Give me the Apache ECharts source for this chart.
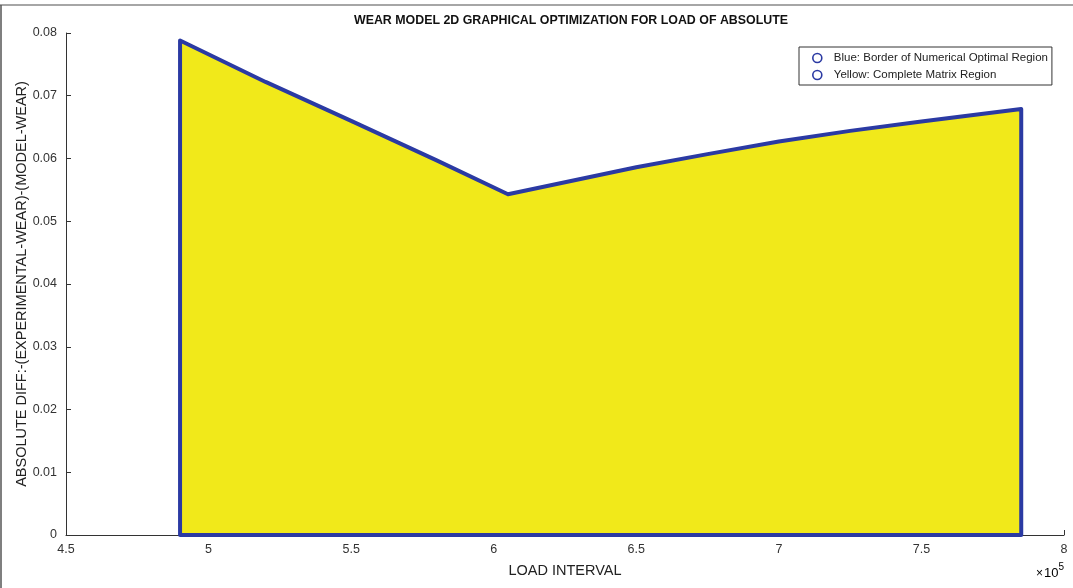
<!DOCTYPE html>
<html>
<head>
<meta charset="utf-8">
<title>Wear model 2D graphical optimization</title>
<script src="https://cdn.jsdelivr.net/npm/echarts@6/dist/echarts.min.js"></script>
<style>
  html, body { margin: 0; padding: 0; background: #ffffff; }
  #chart { width: 1073px; height: 588px; }
</style>
</head>
<body>
<div id="chart"></div>
<script>
// Load interval (x 10^5) along the upper border of the region
const loadX = [4.9, 5.2, 5.5, 5.8, 6.05, 6.3, 6.5, 6.75, 7.0, 7.25, 7.5, 7.85];
// Absolute difference (experimental wear - model wear) on the upper border
const diffY = [0.0788, 0.0722, 0.0660, 0.0597, 0.0543, 0.0567, 0.0586, 0.0607, 0.0627, 0.0644, 0.0659, 0.0679];
const xTicks = [4.5, 5, 5.5, 6, 6.5, 7, 7.5, 8];
const yTicks = [0, 0.01, 0.02, 0.03, 0.04, 0.05, 0.06, 0.07, 0.08];

const NAVY = '#2b3aa3';
const YELLOW = '#f1e91a';
const FONT = '"Liberation Sans", Arial, sans-serif';

// upper curve, used for the filled region
const topCurve = loadX.map((x, i) => [x, diffY[i]]);
// closed outline: up the left edge, along the curve, down the right edge, back along the base
const outline = [[loadX[0], 0]].concat(topCurve, [[loadX[loadX.length - 1], 0], [loadX[0], 0]]);

const chart = echarts.init(document.getElementById('chart'), null, { renderer: 'canvas' });

const legendIcon = { color: 'transparent', borderColor: NAVY, borderWidth: 1.6 };

chart.setOption({
  animation: false,
  backgroundColor: '#ffffff',
  textStyle: { fontFamily: FONT },
  title: {
    text: 'WEAR MODEL 2D GRAPHICAL OPTIMIZATION FOR LOAD OF ABSOLUTE',
    left: 566, top: 10, textAlign: 'center',
    textStyle: { fontFamily: FONT, fontSize: 12.4, fontWeight: 'bold', color: '#111' }
  },
  legend: {
    orient: 'vertical',
    left: 799, top: 47,
    padding: [5, 4, 4, 13],
    itemGap: 5,
    itemWidth: 9, itemHeight: 9,
    icon: 'circle',
    borderColor: '#333', borderWidth: 1,
    backgroundColor: '#fff',
    textStyle: { fontFamily: FONT, fontSize: 11.5, color: '#222', padding: [0, 0, 0, 7] },
    data: [
      { name: 'Blue: Border of Numerical Optimal Region', itemStyle: legendIcon },
      { name: 'Yellow: Complete Matrix Region', itemStyle: legendIcon }
    ]
  },
  grid: { left: 66, right: 9, top: 33, bottom: 53, containLabel: false },
  xAxis: {
    type: 'value',
    min: xTicks[0], max: xTicks[xTicks.length - 1], interval: 0.5,
    name: 'LOAD INTERVAL',
    nameLocation: 'middle', nameGap: 28,
    nameTextStyle: { fontFamily: FONT, fontSize: 14.5, color: '#222' },
    axisLine: { lineStyle: { color: '#333', width: 1 } },
    axisTick: { inside: true, length: 5, lineStyle: { color: '#333' } },
    axisLabel: { fontFamily: FONT, fontSize: 12.5, color: '#333', margin: 8 },
    splitLine: { show: false }
  },
  yAxis: {
    type: 'value',
    min: yTicks[0], max: yTicks[yTicks.length - 1], interval: 0.01,
    name: 'ABSOLUTE DIFF:-(EXPERIMENTAL-WEAR)-(MODEL-WEAR)',
    nameLocation: 'middle', nameGap: 44,
    nameMoveOverlap: false,
    nameTextStyle: { fontFamily: FONT, fontSize: 14.5, color: '#222', verticalAlign: 'middle' },
    axisLine: { show: true, lineStyle: { color: '#333', width: 1 } },
    axisTick: { show: true, inside: true, length: 5, lineStyle: { color: '#333' } },
    axisLabel: { fontFamily: FONT, fontSize: 12.5, color: '#333', margin: 9 },
    splitLine: { show: false }
  },
  graphic: [
    {
      type: 'text', left: 1036, top: 562,
      style: {
        text: '{t|\u00d7}{b|10}{s|5}',
        rich: {
          t: { fontFamily: FONT, fontSize: 12, color: '#333', verticalAlign: 'bottom', padding: [0, 1, 0, 0] },
          b: { fontFamily: FONT, fontSize: 13, color: '#333', verticalAlign: 'bottom' },
          s: { fontFamily: FONT, fontSize: 10, color: '#333', verticalAlign: 'top', padding: [0, 0, 8, 0] }
        }
      }
    },
    { type: 'line', shape: { x1: 0, y1: 5, x2: 1073, y2: 5 }, style: { stroke: '#888', lineWidth: 1.5 } },
    { type: 'line', shape: { x1: 1, y1: 5, x2: 1, y2: 588 }, style: { stroke: '#555', lineWidth: 1.5 } }
  ],
  series: [
    {
      name: 'Yellow: Complete Matrix Region',
      type: 'line',
      data: topCurve,
      showSymbol: false,
      symbol: 'circle',
      lineStyle: { width: 0, color: YELLOW },
      itemStyle: { color: YELLOW },
      areaStyle: { color: YELLOW, opacity: 1, origin: 'start' },
      z: 1
    },
    {
      name: 'Blue: Border of Numerical Optimal Region',
      type: 'line',
      data: outline,
      showSymbol: false,
      symbol: 'circle',
      lineStyle: { width: 4, color: NAVY, join: 'round', cap: 'round' },
      itemStyle: { color: NAVY },
      z: 2
    }
  ]
});
</script>
</body>
</html>
